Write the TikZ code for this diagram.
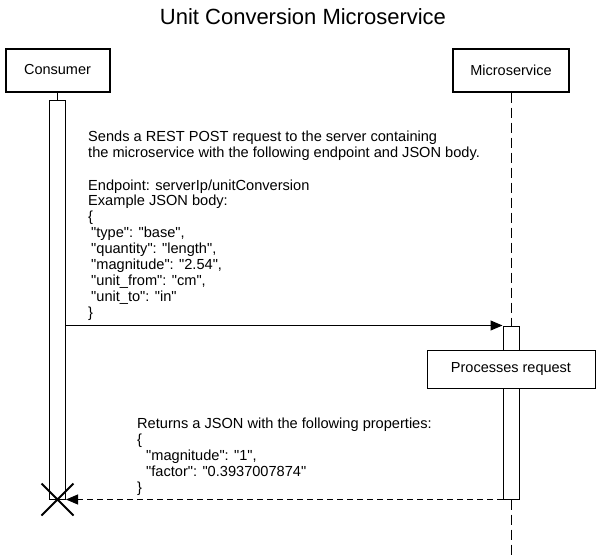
\documentclass[tikz,border=0pt]{standalone}
\usepackage{fontspec}
\setmainfont{Liberation Sans}[Ligatures=TeXOff]
\usepackage{tikz}
\usetikzlibrary{arrows.meta,positioning,shapes.misc}
\tikzset{
  actor/.style={rectangle,draw=black,fill=white,line width=2pt,minimum height=43pt,inner sep=0pt,font=\fontsize{14.5}{17}\selectfont},
  bar/.style={rectangle,draw=black,fill=white,line width=1pt,minimum width=16pt,inner sep=0pt},
  note/.style={rectangle,draw=black,fill=white,line width=1pt,minimum width=168pt,minimum height=38pt,inner sep=0pt,font=\fontsize{14.5}{17}\selectfont},
  msgtext/.style={anchor=north west,align=left,inner sep=0pt,font=\fontsize{14.6}{15.9}\selectfont},
  call/.style={-{Triangle[length=12pt,width=10pt]},line width=1pt,draw=black},
  reply/.style={-{Triangle[length=12pt,width=10pt]},line width=1pt,draw=black,dash pattern=on 6pt off 4pt},
  life/.style={line width=1pt,draw=black,dash pattern=on 10pt off 5pt}
}
\begin{document}
\begin{tikzpicture}[x=1pt,y=-1pt]
\useasboundingbox (0,0) rectangle (606,557);
\node[font=\fontsize{22}{26}\selectfont] (title) at (303,17) {Unit Conversion Microservice};
% lifeline heads
\node[actor,minimum width=104pt] (consumer) at (57.5,70) {Consumer};
\node[actor,minimum width=116pt] (micro) at (511,70) {Microservice};
% activation bars
\node[bar,minimum height=399pt] (cbar) at (57.5,299.5) {};
\node[bar,minimum height=173pt] (mbar) at (511,412.5) {};
\coordinate (mend) at (511,557);
\draw[line width=1pt] (consumer.south) -- (cbar.north);
\draw[life] (micro.south) -- (mbar.north);
\draw[life] (mbar.south) -- (mend);
% request
\draw[call] (cbar.east |- mbar.north) -- (mbar.north west);
\node[msgtext] (reqtext) at (88,131) {Sends a REST POST request to the server containing\\
the microservice with the following endpoint and JSON body.\\[16.5pt]
Endpoint: serverIp/unitConversion\\
Example JSON body:\\
\{\\
\hspace*{3pt}"type": "base",\\
\hspace*{3pt}"quantity": "length",\\
\hspace*{3pt}"magnitude": "2.54",\\
\hspace*{3pt}"unit\_from": "cm",\\
\hspace*{3pt}"unit\_to": "in"\\
\}};
\node[note,below=24pt of mbar.north] (proc) {Processes request};
% reply
\draw[reply] (mbar.south west) -- (cbar.south east);
\node[msgtext,font=\fontsize{14.6}{16}\selectfont] (reptext) at (137,418) {Returns a JSON with the following properties:\\
\{\\
\hspace*{9pt}"magnitude": "1",\\
\hspace*{9pt}"factor": "0.3937007874"\\
\}};
\node[cross out,draw=black,line width=2pt,minimum size=30pt,inner sep=0pt] (stop) at (cbar.south) {};
\end{tikzpicture}
\end{document}
